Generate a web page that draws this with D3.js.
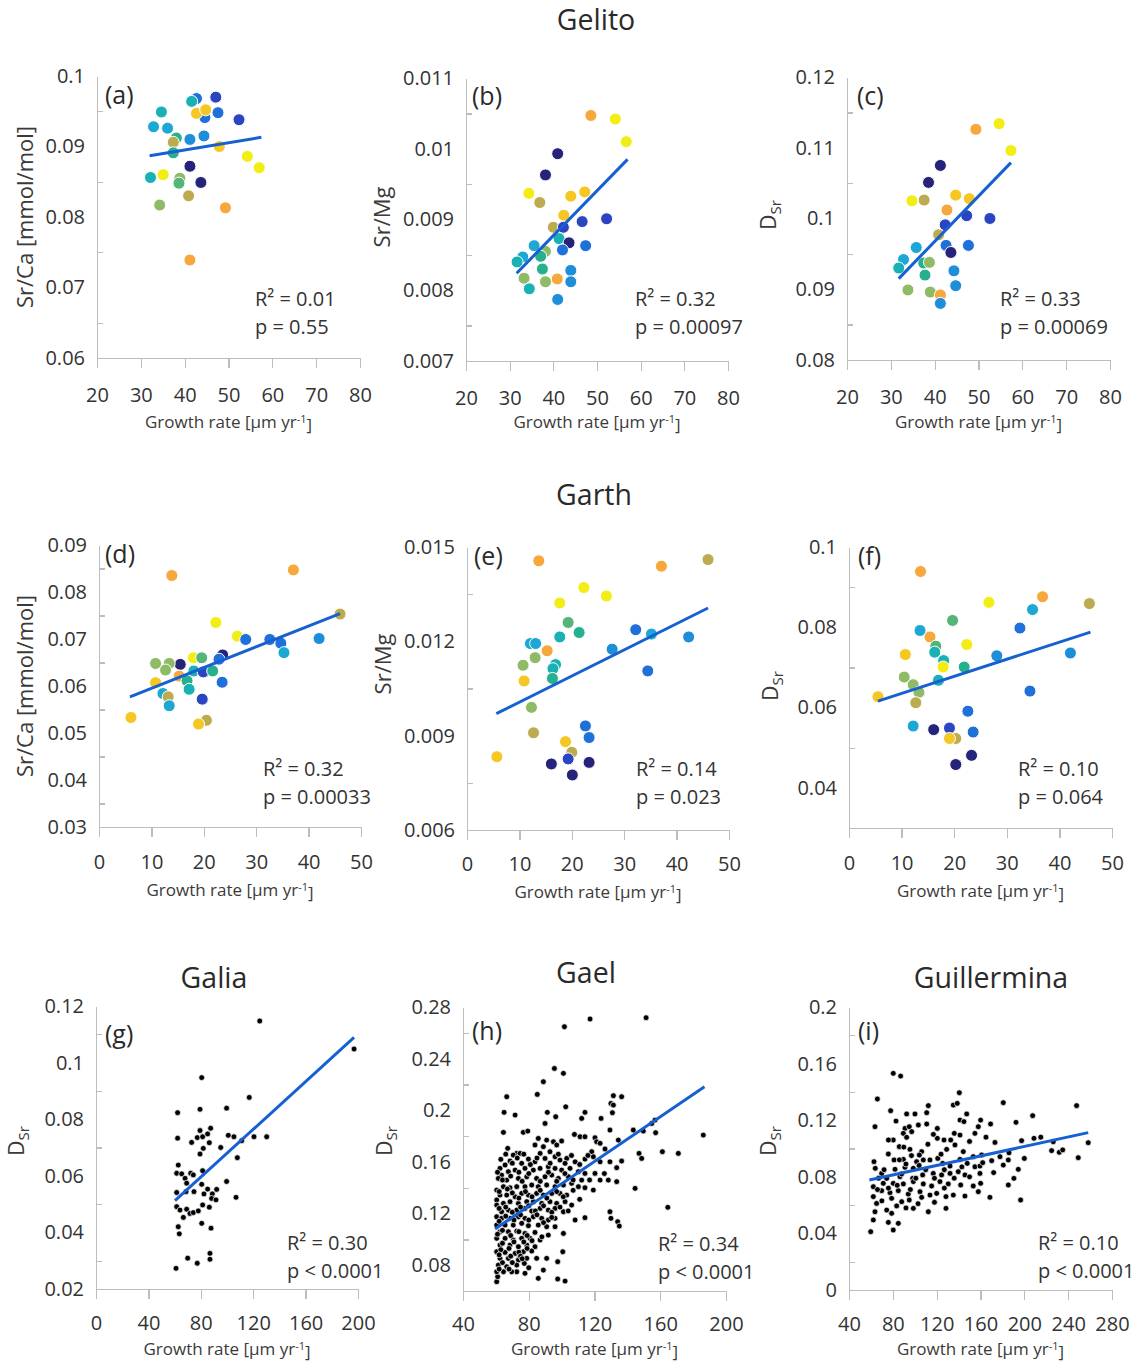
<!DOCTYPE html>
<meta charset="utf-8">
<title>Sr/Ca, Sr/Mg and DSr versus growth rate</title>
<style>

body {
  margin: 0;
  background: #fff;
}

svg {
  display: block;
  font-family: "Open Sans", sans-serif;
}

.axis path,
.axis line {
  fill: none;
  stroke: #bdbdbd;
  stroke-width: 1.3px;
  shape-rendering: crispEdges;
}

.axis text {
  fill: #333;
  font-size: 20px;
}

.title {
  font-size: 28.5px;
  fill: #2a2a2a;
  text-anchor: middle;
}

.xlabel {
  font-size: 17px;
  fill: #3a3a3a;
  text-anchor: middle;
}

.ylabel {
  font-size: 22px;
  fill: #3a3a3a;
  text-anchor: middle;
}

.letter {
  font-size: 25px;
  fill: #2a2a2a;
}

.stat {
  font-size: 20px;
  fill: #333;
}

.fit {
  fill: none;
  stroke: #1660d2;
  stroke-width: 3px;
}

</style>
<body>
<svg id="fig" width="1146" height="1366"></svg>

<script src="https://cdn.jsdelivr.net/npm/d3@7"></script>
<script>

// ---- data: [growth rate, value, colour group] ----
var ptsA = [
  [42.7,0.0968,2],[41.6,0.0964,5],[47.1,0.0970,1],[34.7,0.0949,5],[32.9,0.0928,4],
  [36.1,0.0926,4],[44.6,0.0941,2],[42.7,0.0947,10],[44.8,0.0952,10],[47.6,0.0948,2],
  [52.4,0.0938,1],[44.4,0.0915,3],[41.2,0.0910,3],[38.1,0.0912,6],[37.4,0.0906,9],
  [37.4,0.0891,6],[47.9,0.0900,10],[54.3,0.0886,11],[57.0,0.0870,11],[41.2,0.0872,0],
  [43.7,0.0849,0],[32.2,0.0856,5],[35.1,0.0860,11],[38.9,0.0855,8],[38.7,0.0848,7],
  [40.9,0.0830,9],[34.3,0.0817,8],[49.3,0.0813,12],[41.2,0.0739,12]
];

var ptsB = [
  [48.6,0.01047,12],[54.2,0.01042,11],[56.7,0.01010,11],[41.0,0.00993,0],[38.2,0.00963,0],
  [34.4,0.00937,11],[36.9,0.00924,9],[44.0,0.00933,10],[47.2,0.00939,10],[42.4,0.00906,10],
  [52.2,0.00901,1],[46.6,0.00897,1],[40.0,0.00889,9],[42.3,0.00889,1],[41.3,0.00873,5],
  [43.6,0.00867,0],[47.4,0.00863,2],[42.1,0.00857,2],[35.6,0.00863,4],[38.2,0.00855,8],
  [37.1,0.00848,6],[33.0,0.00847,4],[31.7,0.00840,5],[37.5,0.00830,6],[44.0,0.00828,3],
  [33.3,0.00817,8],[38.2,0.00812,8],[40.9,0.00816,12],[44.0,0.00812,3],[34.5,0.00802,5],
  [41.0,0.00787,3]
];

var ptsC = [
  [54.7,0.1134,11],[49.4,0.1126,12],[57.4,0.1096,11],[41.3,0.1075,0],[38.6,0.1051,0],
  [34.8,0.1025,11],[37.6,0.1026,9],[44.8,0.1033,10],[47.9,0.1028,10],[42.8,0.1012,12],
  [47.3,0.1004,1],[52.6,0.1000,1],[42.4,0.0991,1],[40.9,0.0977,9],[42.6,0.0962,2],
  [47.7,0.0962,2],[43.7,0.0952,0],[35.8,0.0959,4],[32.9,0.0942,4],[31.8,0.0930,5],
  [37.5,0.0937,6],[38.8,0.0938,8],[37.8,0.0920,6],[44.4,0.0926,3],[44.8,0.0905,3],
  [33.9,0.0899,8],[39.0,0.0896,8],[41.3,0.0892,12],[41.3,0.0880,3]
];

var ptsD = [
  [13.9,0.0835,12],[37.1,0.0847,12],[46.0,0.0753,9],[22.3,0.0735,11],[26.4,0.0706,11],
  [28.0,0.0699,2],[32.6,0.0699,2],[34.7,0.0691,2],[42.0,0.0701,3],[35.3,0.0671,4],
  [23.6,0.0666,0],[22.9,0.0657,2],[18.0,0.0660,11],[19.6,0.0660,7],[15.5,0.0646,0],
  [10.8,0.0648,8],[13.4,0.0648,8],[12.7,0.0634,8],[18.1,0.0632,5],[19.9,0.0630,1],
  [21.7,0.0632,6],[15.3,0.0621,12],[16.8,0.0611,6],[10.8,0.0607,10],[23.5,0.0608,2],
  [17.2,0.0593,5],[12.2,0.0584,4],[13.2,0.0577,9],[19.7,0.0572,1],[13.4,0.0558,4],
  [6.1,0.0533,10],[20.5,0.0527,9],[19.0,0.0519,10]
];

var ptsE = [
  [13.7,0.01456,12],[37.1,0.01439,12],[46.0,0.01460,9],[22.3,0.01371,11],[26.6,0.01344,11],
  [17.7,0.01322,11],[19.3,0.01260,7],[21.4,0.01228,6],[17.7,0.01214,5],[32.2,0.01237,2],
  [35.2,0.01223,4],[42.3,0.01214,3],[12.1,0.01193,4],[13.1,0.01193,4],[15.3,0.01170,12],
  [27.7,0.01175,3],[13.0,0.01148,8],[10.7,0.01124,8],[16.9,0.01126,5],[16.4,0.01113,5],
  [16.3,0.01082,6],[34.5,0.01106,2],[10.9,0.01074,10],[12.3,0.00990,8],[12.7,0.00909,9],
  [22.6,0.00931,2],[23.3,0.00894,2],[5.7,0.00833,10],[18.8,0.00881,10],[20.0,0.00847,9],
  [19.3,0.00826,1],[16.1,0.00810,0],[23.3,0.00815,0],[20.1,0.00775,0]
];

var ptsF = [
  [13.6,0.0939,12],[36.8,0.0876,12],[45.7,0.0859,9],[26.6,0.0862,11],[34.9,0.0844,4],
  [19.7,0.0817,7],[32.5,0.0798,2],[13.5,0.0792,4],[15.4,0.0776,12],[22.4,0.0757,11],
  [16.5,0.0753,7],[16.3,0.0738,5],[10.7,0.0732,10],[28.1,0.0729,3],[42.1,0.0736,3],
  [18.0,0.0717,5],[17.9,0.0701,11],[21.9,0.0701,6],[10.5,0.0676,8],[17.0,0.0668,5],
  [12.2,0.0657,8],[13.3,0.0638,8],[34.4,0.0641,2],[5.5,0.0627,10],[12.7,0.0612,9],
  [22.6,0.0591,2],[12.2,0.0554,4],[16.1,0.0545,0],[19.1,0.0549,1],[23.6,0.0539,2],
  [20.3,0.0523,9],[19.1,0.0523,10],[23.3,0.0481,0],[20.3,0.0458,0]
];

var ptsG = [
  [125,0.1147],[197,0.1048],[80.7,0.0947],[117,0.0877],[62.3,0.0823],[79.4,0.0835],
  [99.7,0.0839],[62.3,0.0733],[79.4,0.0760],[87.5,0.0768],[77.3,0.0735],[73,0.0718],
  [81.4,0.0738],[85.2,0.0748],[86.5,0.0717],[81.9,0.0697],[79.4,0.0677],[101,0.0743],
  [105.3,0.0738],[111.2,0.0724],[120.6,0.0738],[130.3,0.0738],[95.2,0.0700],[107.9,0.0664],
  [62.8,0.0638],[61.6,0.0609],[65.4,0.0607],[68,0.0591],[72.3,0.0609],[74.3,0.0603],
  [81.4,0.0618],[69.2,0.0574],[99.7,0.0580],[80.7,0.0570],[85.2,0.0553],[82.4,0.0536],
  [61.6,0.0541],[68.7,0.0544],[74.8,0.0544],[88.8,0.0536],[92.1,0.0552],[88.3,0.0520],
  [91.6,0.0515],[106.9,0.0524],[61.6,0.0491],[64.1,0.0479],[69.2,0.0482],[71.7,0.0467],
  [74.3,0.0470],[78.1,0.0476],[81.4,0.0497],[86.5,0.0489],[66.7,0.0453],[80.7,0.0432],
  [87.8,0.0415],[62.8,0.0420],[63.6,0.0395],[87,0.0326],[87,0.0305],[70,0.0309],
  [77.3,0.0291],[61.1,0.0273]
];

var ptsH = [
  [101.7,0.2647],[117.3,0.2707],[151.4,0.2717],[95.6,0.2324],[101.1,0.2286],[88.9,0.2221],
  [85.2,0.2123],[66.6,0.2105],[131.5,0.2113],[136.5,0.2105],[130,0.2053],[131.5,0.204],
  [102.5,0.2027],[65,0.1984],[71.7,0.1963],[91.3,0.1984],[96.4,0.195],[114.2,0.1984],
  [112.2,0.1937],[124,0.1937],[130.9,0.1981],[89.9,0.1898],[156.8,0.1924],[154.8,0.1898],
  [64.6,0.1829],[76.7,0.1829],[79.4,0.1839],[107.8,0.1813],[111.2,0.1795],[114.2,0.1795],
  [120.3,0.1787],[129.4,0.1847],[134.5,0.1769],[143.6,0.1847],[149.7,0.1839],[157.2,0.1826],
  [186.2,0.1808],[161.3,0.1679],[171,0.1666],[147.1,0.1666],[148.7,0.1627],[67.2,0.1705],
  [72.7,0.1666],[144.7,0.1395],[164.6,0.1248],[129.4,0.1214],[130,0.1163],[134.1,0.1137],
  [135.1,0.1103],[114.2,0.1168],[108.2,0.115],[101.1,0.1046],[100.7,0.0904],[97.6,0.0827],
  [90.9,0.0853],[84.8,0.0853],[60.5,0.0672],[61.1,0.0711],[85.8,0.0698],[88.9,0.0762],
  [97.6,0.0693],[102.1,0.0677],[77.7,0.0737],[72.7,0.0749],
  [85.8,0.1782],[90.9,0.1769],[95.0,0.1756],[100.0,0.1762],[83.8,0.1731],[88.9,0.1718],
  [97.0,0.1731],[121.3,0.1756],[123.4,0.1744],[118.3,0.1679],[126.4,0.17],[70.6,0.1653],
  [74.7,0.1666],[79.8,0.1622],[86.9,0.1666],[89.9,0.1627],[92.9,0.1679],[96.0,0.164],
  [99.0,0.1614],[103.1,0.1627],[108.2,0.1601],[114.2,0.1622],[119.3,0.164],[123.4,0.1601],
  [129.4,0.1601],[136.5,0.1607],[133.5,0.1555],[62.5,0.155],[65.6,0.1576],[68.6,0.1607],
  [75.7,0.1589],[83.8,0.1601],[102.1,0.1589],[63.5,0.1498],[67.6,0.1524],[71.7,0.1537],
  [77.7,0.155],[82.8,0.1537],[86.9,0.155],[91.9,0.1563],[96.0,0.155],[100.0,0.1537],
  [105.1,0.155],[110.2,0.1524],[112.2,0.1459],[120.3,0.1511],[123.4,0.1459],[128.4,0.1459],
  [133.5,0.1447],[61.5,0.1472],[66.6,0.1459],[73.7,0.1472],[78.8,0.1485],[84.8,0.1472],
  [89.9,0.1485],[94.0,0.1498],[98.0,0.1472],[104.1,0.1485],[114.2,0.1511],[60.5,0.1382],
  [64.6,0.1408],[68.6,0.14],[72.7,0.1408],[77.7,0.1408],[81.8,0.1421],[85.8,0.1408],
  [90.9,0.1421],[96.0,0.1408],[101.1,0.1421],[106.1,0.1434],[110.2,0.1408],[114.2,0.14],
  [119.3,0.1382],[62.5,0.1343],[66.6,0.1343],[71.7,0.133],[75.7,0.1356],[79.8,0.1343],
  [84.8,0.1356],[88.9,0.1343],[94.0,0.1356],[99.0,0.1356],[103.1,0.1343],[60.5,0.1305],
  [60.5,0.1266],[64.6,0.1279],[68.6,0.1292],[73.7,0.1279],[78.8,0.1292],[82.8,0.1292],
  [87.9,0.1279],[92.9,0.1292],[97.0,0.1279],[102.1,0.1292],[106.1,0.1266],[63.5,0.1214],
  [67.6,0.1227],[72.7,0.1227],[77.7,0.124],[81.8,0.1219],[86.9,0.124],[91.9,0.1227],
  [96.0,0.124],[101.1,0.1214],[60.5,0.1175],[63.5,0.1163],[68.6,0.1163],[73.7,0.1175],
  [77.7,0.1163],[82.8,0.1175],[87.9,0.1163],[91.9,0.115],[96.0,0.1163],[60.5,0.1111],
  [65.6,0.1111],[70.6,0.1111],[75.7,0.1124],[79.8,0.1106],[85.8,0.1111],[90.9,0.1098],
  [96.0,0.1098],[62.5,0.1059],[67.6,0.1059],[72.7,0.1064],[77.7,0.1046],[83.8,0.1054],
  [91.9,0.1033],[60.5,0.1008],[65.6,0.1008],[70.6,0.0995],[75.7,0.1008],[80.8,0.1008],
  [86.9,0.0995],[62.5,0.0956],[68.6,0.0956],[73.7,0.0943],[78.8,0.0956],[83.8,0.0943],
  [60.5,0.0904],[65.6,0.0899],[71.7,0.0891],[76.7,0.0904],[81.8,0.091],[62.5,0.0853],
  [67.6,0.0853],[73.7,0.084],[78.8,0.0853],[61.5,0.0801],[66.6,0.0788],[72.7,0.0801],
  [77.3,0.0814],[64.6,0.0749],[69.6,0.0749],[60.5,0.0749],
  [63,0.162],[66,0.166],[70,0.159],[73,0.163],[77,0.166],[81,0.158],[85,0.163],[93,0.159],
  [98,0.166],[106,0.165],[111,0.158],[116,0.165],[61,0.152],[64,0.146],[69,0.149],[74,0.152],
  [76,0.145],[80,0.151],[87,0.145],[92,0.152],[97,0.145],[102,0.151],[107,0.146],[117,0.146],
  [126,0.151],[62,0.137],[67,0.139],[70,0.136],[74,0.132],[78,0.137],[82,0.133],[87,0.138],
  [91,0.132],[97,0.137],[101,0.133],[107,0.138],[111,0.131],[62,0.124],[66,0.125],[70,0.121],
  [75,0.125],[80,0.126],[84,0.122],[89,0.126],[94,0.121],[99,0.125],[104,0.122],[62,0.114],
  [66,0.118],[71,0.115],[75,0.119],[80,0.115],[85,0.119],[89,0.113],[94,0.117],[61,0.104],
  [64,0.107],[69,0.103],[74,0.106],[79,0.103],[82,0.099],[88,0.102],[64,0.097],[71,0.098],
  [77,0.098],[63,0.092],[68,0.093],[74,0.09],[79,0.093],[62,0.088],[69,0.087],[75,0.087],
  [64,0.082],[70,0.082],[76,0.085],[80,0.078],[62,0.077],[68,0.077]
];

var ptsI = [
  [80.4,0.1531],[87.1,0.1512],[65.9,0.1350],[140.7,0.1394],[180.8,0.1324],[247.7,0.1303],
  [78.0,0.1267],[112.4,0.1303],[135.2,0.1307],[138.8,0.1319],[92.6,0.1244],[100.2,0.1244],
  [110.9,0.1253],[147.4,0.1244],[207.6,0.1232],[63.7,0.1154],[82.9,0.1194],[91.1,0.1142],
  [95.0,0.1154],[103.3,0.1166],[110.9,0.1173],[120.6,0.1142],[141.3,0.1201],[144.9,0.1190],
  [160.1,0.1201],[169.2,0.1173],[192.4,0.1185],[89.6,0.1107],[97.2,0.1119],[92.6,0.1079],
  [120.6,0.1072],[126.7,0.1060],[132.8,0.1060],[136.1,0.1107],[141.3,0.1095],[158.0,0.1154],
  [154.9,0.1107],[173.2,0.1043],[197.5,0.1055],[208.8,0.1072],[226.4,0.1048],[258.3,0.1041],
  [80.4,0.1060],[85.9,0.1013],[95.6,0.0994],[106.3,0.0978],[104.2,0.0954],[129.1,0.0994],
  [136.7,0.1025],[144.3,0.0978],[153.4,0.0942],[161.0,0.0954],[170.2,0.0914],[177.8,0.0942],
  [185.4,0.0919],[224.9,0.0985],[231.9,0.0973],[249.2,0.0935],[62.8,0.0907],[75.9,0.0961],
  [81.1,0.0919],[89.6,0.0923],[101.7,0.0907],[107.8,0.0919],[113.9,0.0919],[125.5,0.0895],
  [132.2,0.0876],[141.3,0.0923],[147.9,0.0895],[154.9,0.0871],[159.5,0.0876],[180.8,0.0883],
  [194.5,0.0853],[69.8,0.0824],[82.0,0.0853],[91.1,0.0867],[98.7,0.0860],[74.4,0.0789],
  [86.5,0.0801],[98.1,0.0789],[107.2,0.0813],[116.9,0.0824],[124.5,0.0813],[132.2,0.0824],
  [139.7,0.0836],[145.8,0.0813],[159.5,0.0824],[190.5,0.0789],[62.2,0.0730],[71.3,0.0754],
  [80.4,0.0754],[89.6,0.0750],[98.7,0.0766],[107.8,0.0750],[115.4,0.0735],[123.0,0.0766],
  [130.6,0.0750],[141.9,0.0742],[153.4,0.0735],[160.1,0.0754],[185.4,0.0742],[62.2,0.0660],
  [69.8,0.0702],[77.4,0.0688],[85.0,0.0702],[94.1,0.0678],[104.8,0.0695],[113.9,0.0671],
  [120.0,0.0683],[128.5,0.0660],[135.2,0.0671],[145.8,0.0664],[158.0,0.0695],[168.6,0.0655],
  [196.6,0.0636],[65.2,0.0612],[78.9,0.0648],[88.1,0.0624],[95.0,0.0636],[106.3,0.0655],
  [83.5,0.0594],[98.7,0.0577],[112.4,0.0553],[128.5,0.0577],[63.7,0.0553],[74.4,0.0565],
  [78.9,0.0542],[62.2,0.0495],[85.0,0.0471],[75.9,0.0478],[59.8,0.0412],[80.4,0.0424],
  [64,0.086],[67,0.079],[72,0.085],[76,0.072],[84,0.074],[88,0.082],[92,0.089],[96,0.071],
  [101,0.079],[104,0.088],[110,0.085],[118,0.079],[121,0.093],[127,0.085],[136,0.079],
  [127,0.072],[143,0.087],[150,0.080],[162,0.090],[172,0.083],[118,0.062],[103,0.061],
  [92,0.058],[70,0.063],[66,0.071],[86,0.092],[97,0.095],[112,0.103],[117,0.110],[124,0.096],
  [150,0.105],[165,0.108],[186,0.097],[200,0.093],[215,0.108],[235,0.099],[90,0.101],[76,0.106]
];

// regression lines (end points)
var fitA = [[32.0,0.0887],[57.5,0.0913]];
var fitB = [[31.6,0.00824],[57.0,0.00985]];
var fitC = [[31.8,0.0915],[57.4,0.1079]];
var fitD = [[5.9,0.0577],[46.0,0.0754]];
var fitE = [[5.6,0.0097],[46.0,0.01306]];
var fitF = [[5.5,0.0616],[45.9,0.0788]];
var fitG = [[60.3,0.0512],[197,0.1089]];
var fitH = [[59.5,0.108],[186.9,0.2182]];
var fitI = [[58.6,0.0777],[258.3,0.1112]];

// tick labels
var xTicksGelito = [20,30,40,50,60,70,80];
var xTicksGarth = [0,10,20,30,40,50];
var xTicksGalia = [0,40,80,120,160,200];
var xTicksGael = [40,80,120,160,200];
var xTicksGuill = [40,80,120,160,200,240,280];
var yTicksA = [0.06,0.07,0.08,0.09,0.1];
var yTicksB = [0.007,0.008,0.009,0.01,0.011];
var yTicksC = [0.08,0.09,0.1,0.11,0.12];
var yTicksD = [0.03,0.04,0.05,0.06,0.07,0.08,0.09];
var yTicksE = [0.006,0.009,0.012,0.015];
var yTicksF = [0.04,0.06,0.08,0.1];
var yTicksG = [0.02,0.04,0.06,0.08,0.1,0.12];
var yTicksH = [0.08,0.12,0.16,0.2,0.24,0.28];
var yTicksI = [0,0.04,0.08,0.12,0.16,0.2];

var r2Values = [0.01,0.32,0.33,0.32,0.14,0.10,0.30,0.34,0.10];
var pValues = ["= 0.55","= 0.00097","= 0.00069","= 0.00033","= 0.023","= 0.064","< 0.0001","< 0.0001","< 0.0001"];

var titles = [["Gelito",596,30],["Garth",594,505],["Galia",214,988],["Gael",586,983],["Guillermina",991,988]];

var groupColors = ["#25237a","#2b45c2","#1f70d8","#1e8ed8","#1ca7d4","#19b1b5",
                   "#27b08e","#55b477","#8fbb66","#bcab4f","#f6c623","#f2ee14","#f6a83c"];

// ---- layout ----
var panels = [
  {letter:"a", pts:ptsA, fit:fitA, xTicks:xTicksGelito, yTicks:yTicksA, yMin:0.06, left:97,  right:360,  top:76,   bottom:358,  ylab:"Sr/Ca [mmol/mol]", ylx:33,  yly:217,  lx:105, ly:95,   sx:255,  sy:299, xlo:70, tp:20},
  {letter:"b", pts:ptsB, fit:fitB, xTicks:xTicksGelito, yTicks:yTicksB, yMin:0.007, left:466, right:728, top:78, bottom:361, ylab:"Sr/Mg", ylx:390, yly:217, lx:472, ly:96, sx:635, sy:299, xlo:67, tp:20},
  {letter:"c", pts:ptsC, fit:fitC, xTicks:xTicksGelito, yTicks:yTicksC, yMin:0.08, left:847, right:1110, top:77, bottom:360, ylab:"D", ylx:776, yly:215, lx:857, ly:96, sx:1000, sy:299, xlo:68, tp:20},
  {letter:"d", pts:ptsD, fit:fitD, xTicks:xTicksGarth, yTicks:yTicksD, yMin:0.03, left:99, right:361, top:545, bottom:827, ylab:"Sr/Ca [mmol/mol]", ylx:33, yly:686, lx:105, ly:554, sx:263, sy:769, xlo:69, tp:18},
  {letter:"e", pts:ptsE, fit:fitE, xTicks:xTicksGarth, yTicks:yTicksE, yMin:0.006, left:467, right:729, top:547, bottom:830, ylab:"Sr/Mg", ylx:391, yly:664, lx:474, ly:556, sx:636, sy:769, xlo:68, tp:17},
  {letter:"f", pts:ptsF, fit:fitF, xTicks:xTicksGarth, yTicks:yTicksF, yMin:0.03, left:849, right:1112, top:547, bottom:828, ylab:"D", ylx:778, yly:686, lx:858, ly:556, sx:1018, sy:769, xlo:69, tp:18},
  {letter:"g", pts:ptsG, fit:fitG, xTicks:xTicksGalia, yTicks:yTicksG, yMin:0.02, left:96, right:358, top:1006, bottom:1289, ylab:"D", ylx:24, yly:1141, lx:105, ly:1034, sx:287, sy:1243, xlo:66, tp:17},
  {letter:"h", pts:ptsH, fit:fitH, xTicks:xTicksGael, yTicks:yTicksH, yMin:0.06, left:463, right:726, top:1007, bottom:1291, ylab:"D", ylx:392, yly:1141, lx:472, ly:1031, sx:658, sy:1244, xlo:64, tp:16},
  {letter:"i", pts:ptsI, fit:fitI, xTicks:xTicksGuill, yTicks:yTicksI, yMin:0, left:849, right:1112, top:1007, bottom:1290, ylab:"D", ylx:776, yly:1141, lx:858, ly:1031, sx:1038, sy:1243, xlo:65, tp:17}
];

var svg = d3.select("#fig");
var fmt = function(v) { return String(+v.toFixed(4)); };

svg.selectAll(".title")
    .data(titles)
  .enter().append("text")
    .attr("class", "title")
    .attr("x", function(d) { return d[1]; })
    .attr("y", function(d) { return d[2]; })
    .text(function(d) { return d[0]; });

panels.forEach(function(p, i) {
  var xt = p.xTicks, yt = p.yTicks;
  var x = d3.scaleLinear()
      .domain([xt[0], xt[xt.length - 1]])
      .range([p.left, p.right]);
  var y = d3.scaleLinear()
      .domain([p.yMin, yt[yt.length - 1]])
      .range([p.bottom, p.top]);

  var g = svg.append("g");

  // x axis: ticks point down
  g.append("g")
      .attr("class", "axis")
      .attr("transform", "translate(0," + p.bottom + ")")
      .call(d3.axisBottom(x).tickValues(xt).tickSize(10).tickSizeOuter(0).tickPadding(p.tp).tickFormat(fmt))
      .attr("font-size", null).attr("font-family", null);

  // y axis labels
  g.append("g")
      .attr("class", "axis")
      .attr("transform", "translate(" + p.left + ",0)")
      .call(d3.axisLeft(y).tickValues(yt).tickSize(0).tickSizeOuter(0).tickPadding(12).tickFormat(fmt))
      .attr("font-size", null).attr("font-family", null);

  // small inner ticks between the labels
  var mids = d3.pairs(yt).map(function(q) { return (q[0] + q[1]) / 2; });
  var minor = g.append("g")
      .attr("class", "axis")
      .attr("transform", "translate(" + p.left + ",0)")
      .call(d3.axisRight(y).tickValues(mids).tickSize(6).tickSizeOuter(0).tickFormat(""));
  minor.select(".domain").remove();

  // y title
  var yl = g.append("text")
      .attr("class", "ylabel")
      .attr("transform", "translate(" + p.ylx + "," + p.yly + ") rotate(-90)");
  if (p.ylab == "D") {
    yl.style("font-size", "21px").text("D");
    yl.append("tspan").attr("dy", "0.3em").style("font-size", "15px").text("Sr");
  } else {
    yl.text(p.ylab);
  }

  // x title
  var xl = g.append("text")
      .attr("class", "xlabel")
      .attr("x", (p.left + p.right) / 2)
      .attr("y", p.bottom + p.xlo)
      .text("Growth rate [µm yr");
  xl.append("tspan").attr("dy", "-0.45em").style("font-size", "11px").text("-1");
  xl.append("tspan").attr("dy", "0.45em").text("]");

  // points
  var colored = p.pts[0].length > 2;
  g.selectAll(".dot")
      .data(p.pts)
    .enter().append("circle")
      .attr("class", "dot")
      .attr("cx", function(d) { return x(d[0]); })
      .attr("cy", function(d) { return y(d[1]); })
      .attr("r", colored ? 6 : 2.9)
      .style("fill", function(d) { return colored ? groupColors[d[2]] : "#000"; })
      .style("stroke", "#fff")
      .style("stroke-width", colored ? 1 : 0.7);

  // regression line
  g.append("path")
      .attr("class", "fit")
      .attr("d", d3.line()
          .x(function(d) { return x(d[0]); })
          .y(function(d) { return y(d[1]); })(p.fit));

  // panel letter
  g.append("text")
      .attr("class", "letter")
      .attr("x", p.lx)
      .attr("y", p.ly + 9)
      .text("(" + p.letter + ")");

  // stats
  g.append("text")
      .attr("class", "stat")
      .attr("x", p.sx)
      .attr("y", p.sy + 7)
      .text("R² = " + r2Values[i].toFixed(2));
  g.append("text")
      .attr("class", "stat")
      .attr("x", p.sx)
      .attr("y", p.sy + 35)
      .text("p " + pValues[i]);
});

</script>
</body>
